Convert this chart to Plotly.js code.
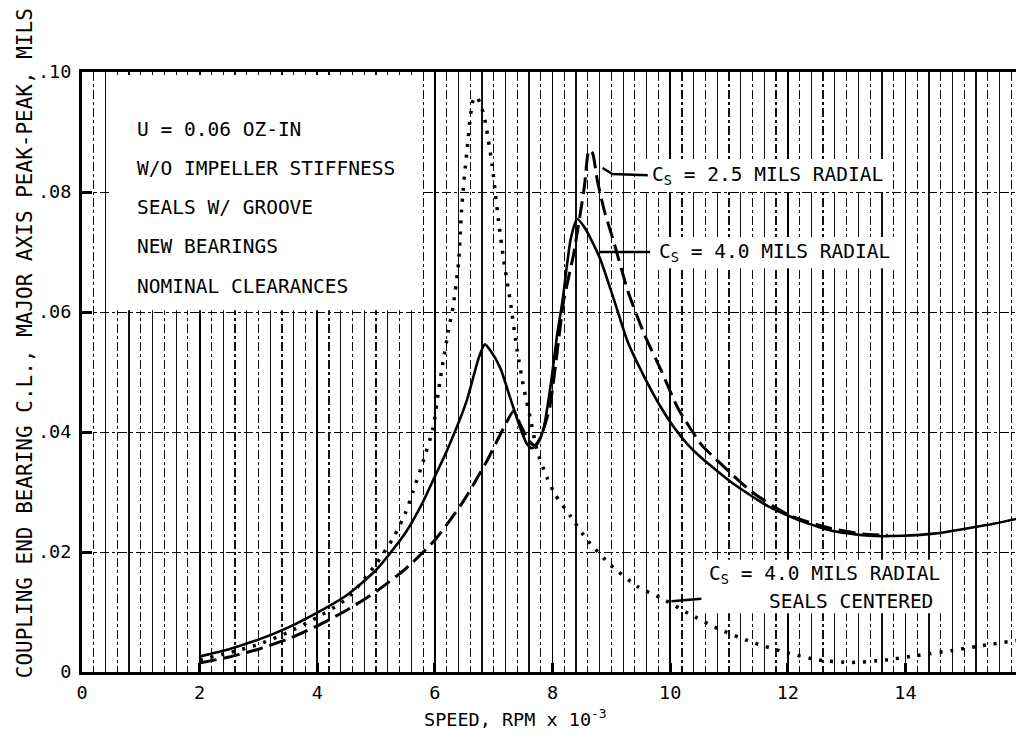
<!DOCTYPE html>
<html>
<head>
<meta charset="utf-8">
<script src="https://cdn.plot.ly/plotly-3.0.1.min.js"></script>
<style>
html,body{margin:0;padding:0;background:#fff;}
#chart{width:1016px;height:737px;}
</style>
</head>
<body>
<div id="chart"></div>
<script>
// ---- data (speed in RPM x 10^-3, amplitude in mils) ----
const speedCs40 = [2.0, 2.5, 3.0, 3.5, 4.0, 4.5, 5.0, 5.5, 5.8, 6.0, 6.2, 6.54, 6.75, 6.85, 6.95, 7.11, 7.28, 7.45, 7.56, 7.65, 7.75, 7.85, 7.97, 8.08, 8.17, 8.31, 8.42, 8.55, 8.70, 8.82, 9.05, 9.28, 9.56, 9.85, 10.07, 10.30, 10.53, 11.1, 11.67, 12.24, 12.81, 13.38, 13.95, 14.52, 15.09, 15.5, 15.93];
const ampCs40   = [0.0026, 0.0038, 0.0054, 0.0074, 0.0099, 0.0128, 0.0170, 0.0232, 0.0284, 0.0326, 0.0368, 0.0452, 0.0525, 0.0546, 0.0535, 0.0507, 0.0457, 0.0407, 0.0381, 0.0373, 0.0381, 0.0407, 0.0479, 0.0563, 0.0619, 0.0722, 0.0755, 0.0740, 0.0712, 0.0686, 0.0619, 0.0550, 0.0492, 0.0440, 0.0407, 0.0379, 0.0357, 0.0312, 0.0276, 0.0251, 0.0234, 0.0227, 0.0227, 0.0231, 0.0240, 0.0247, 0.0256];

const speedCs25 = [2.0, 2.5, 3.0, 3.5, 4.0, 4.5, 5.0, 5.5, 6.0, 6.48, 6.88, 7.17, 7.34, 7.45, 7.60, 7.70, 7.80, 7.95, 8.05, 8.19, 8.36, 8.54, 8.62, 8.68, 8.76, 8.88, 9.05, 9.28, 9.56, 9.85, 10.13, 10.53, 10.7, 11.38, 12.01, 12.7, 13.26, 13.7];
const ampCs25   = [0.0015, 0.0025, 0.0038, 0.0055, 0.0077, 0.0103, 0.0134, 0.0172, 0.0220, 0.0284, 0.0351, 0.0407, 0.0435, 0.0413, 0.0385, 0.0378, 0.0392, 0.0440, 0.0510, 0.0619, 0.0697, 0.0808, 0.0870, 0.0865, 0.0820, 0.0769, 0.0714, 0.0635, 0.0563, 0.0502, 0.0440, 0.0379, 0.0362, 0.0301, 0.0262, 0.0240, 0.0230, 0.0228];

const speedCentered = [2.0, 2.5, 3.0, 3.5, 4.0, 4.5, 5.0, 5.3, 5.5, 5.63, 5.8, 5.97, 6.06, 6.14, 6.23, 6.31, 6.40, 6.46, 6.54, 6.65, 6.71, 6.78, 6.85, 6.97, 7.08, 7.17, 7.28, 7.40, 7.51, 7.62, 7.74, 7.91, 8.05, 8.31, 8.59, 8.99, 9.45, 9.85, 10.36, 10.82, 11.38, 11.95, 12.52, 13.09, 13.66, 14.23, 14.8, 15.37, 15.93];
const ampCentered   = [0.0020, 0.0032, 0.0046, 0.0066, 0.0091, 0.0122, 0.0180, 0.0225, 0.0265, 0.0301, 0.0351, 0.0407, 0.0468, 0.0518, 0.0569, 0.0610, 0.0680, 0.0780, 0.0864, 0.0953, 0.0959, 0.0945, 0.0920, 0.0847, 0.0753, 0.0686, 0.0619, 0.0535, 0.0474, 0.0424, 0.0368, 0.0323, 0.0295, 0.0259, 0.0220, 0.0178, 0.0142, 0.0123, 0.0095, 0.0072, 0.0050, 0.0033, 0.0020, 0.0016, 0.0020, 0.0028, 0.0036, 0.0045, 0.0053];

const xTickVals = [0, 2, 4, 6, 8, 10, 12, 14];
const xTickText = ['0', '2', '4', '6', '8', '10', '12', '14'];
const yTickVals = [0, 0.02, 0.04, 0.06, 0.08, 0.10];
const yTickText = ['0', '.02', '.04', '.06', '.08', '.10'];

const noteLines = ['U = 0.06 OZ-IN', 'W/O IMPELLER STIFFNESS', 'SEALS W/ GROOVE', 'NEW BEARINGS', 'NOMINAL CLEARANCES'];
const labelCs25 = 'C<sub>S</sub> = 2.5 MILS RADIAL';
const labelCs40 = 'C<sub>S</sub> = 4.0 MILS RADIAL';
const labelCenteredA = 'C<sub>S</sub> = 4.0 MILS RADIAL';
const labelCenteredB = 'SEALS CENTERED';
const xTitle = 'SPEED, RPM x 10<sup>-3</sup>';
const yTitle = 'COUPLING END BEARING C.L., MAJOR AXIS PEAK-PEAK, MILS';

// ---- styling ----
const FONT = 'DejaVu Sans Mono, Liberation Mono, monospace';
const X_RANGE = [0, 15.88];
const Y_RANGE = [0, 0.1];

const traces = [
  {x: speedCentered, y: ampCentered, mode: 'lines', xaxis: 'x2', name: 'Cs = 4.0 seals centered',
   line: {color: '#000', width: 3.5, dash: '3px,8px', shape: 'spline', smoothing: 0.6}},
  {x: speedCs25, y: ampCs25, mode: 'lines', name: 'Cs = 2.5',
   line: {color: '#000', width: 3, dash: '17px,7px', shape: 'spline', smoothing: 0.6}},
  {x: speedCs40, y: ampCs40, mode: 'lines', name: 'Cs = 4.0',
   line: {color: '#000', width: 2.6, shape: 'spline', smoothing: 0.6}}
];

const annotations = [];
noteLines.forEach((t, i) => {
  annotations.push({xref: 'x', yref: 'y', x: 0.90, y: 0.0905 - i * 0.00655, text: t,
    showarrow: false, xanchor: 'left', yanchor: 'middle', font: {family: FONT, size: 19.5, color: '#000'}});
});
annotations.push({xref: 'x', yref: 'y', x: 9.65, y: 0.0828, text: labelCs25, showarrow: false,
  xanchor: 'left', yanchor: 'middle', font: {family: FONT, size: 19.5, color: '#000'}});
annotations.push({xref: 'x', yref: 'y', x: 9.77, y: 0.0700, text: labelCs40, showarrow: false,
  xanchor: 'left', yanchor: 'middle', font: {family: FONT, size: 19.5, color: '#000'}});
annotations.push({xref: 'x', yref: 'y', x: 10.62, y: 0.0162, text: labelCenteredA, showarrow: false,
  xanchor: 'left', yanchor: 'middle', font: {family: FONT, size: 19.5, color: '#000'}});
annotations.push({xref: 'x', yref: 'y', x: 11.64, y: 0.0117, text: labelCenteredB, showarrow: false,
  xanchor: 'left', yanchor: 'middle', font: {family: FONT, size: 19.5, color: '#000'}});
annotations.push({xref: 'paper', yref: 'paper', x: 0.4636, y: -0.076, text: xTitle, showarrow: false,
  xanchor: 'center', yanchor: 'middle', font: {family: FONT, size: 18.5, color: '#000'}});
annotations.push({xref: 'paper', yref: 'paper', x: -0.061, y: 0.548, text: yTitle, showarrow: false,
  textangle: -90, xanchor: 'center', yanchor: 'middle', font: {family: FONT, size: 21, color: '#000'}});

const white = {type: 'rect', xref: 'x', yref: 'y', layer: 'above', fillcolor: '#fff', line: {width: 0}};
const lead = {xref: 'x', yref: 'y', layer: 'above', line: {color: '#000', width: 2.5}};
const shapes = [
  Object.assign({x0: 0.48, x1: 5.79, y0: 0.0603, y1: 0.0995}, white),
  Object.assign({x0: 9.57, x1: 13.73, y0: 0.0800, y1: 0.0855}, white),
  Object.assign({x0: 9.69, x1: 13.81, y0: 0.0673, y1: 0.0725}, white),
  Object.assign({x0: 10.55, x1: 14.63, y0: 0.0098, y1: 0.0187}, white),
  Object.assign({type: 'path', path: 'M 8.85,0.0840 L 9.02,0.0830 L 9.62,0.0828'}, lead),
  Object.assign({type: 'line', x0: 8.80, y0: 0.0700, x1: 9.66, y1: 0.0700}, lead),
  Object.assign({type: 'line', x0: 10.02, y0: 0.0118, x1: 10.53, y1: 0.0122}, lead)
];

const layout = {
  width: 1016, height: 737,
  margin: {l: 82, r: 0, t: 72, b: 65, pad: 0},
  paper_bgcolor: '#fff', plot_bgcolor: '#fff',
  showlegend: false,
  font: {family: FONT, color: '#000'},
  xaxis: {
    range: X_RANGE, tickvals: xTickVals, ticktext: xTickText,
    showgrid: true, gridcolor: '#000', gridwidth: 1.8,
    minor: {tick0: 0, dtick: 0.4, showgrid: true, gridcolor: '#111', gridwidth: 1.2, griddash: 'solid', ticks: ''},
    showline: true, linecolor: '#000', linewidth: 3, mirror: true,
    ticks: 'inside', ticklen: 9, tickwidth: 3, tickcolor: '#000',
    tickfont: {family: FONT, size: 18.5, color: '#000'}, ticklabelstandoff: 2,
    zeroline: false, fixedrange: true
  },
  xaxis2: {
    range: X_RANGE, overlaying: 'x', anchor: 'y', side: 'bottom',
    showticklabels: false, ticks: '', showline: false, zeroline: false,
    tick0: 0.2, dtick: 0.4, showgrid: true, gridcolor: '#111', gridwidth: 1.2, griddash: 'dashdot'
  },
  yaxis: {
    range: Y_RANGE, tickvals: yTickVals, ticktext: yTickText,
    showgrid: true, gridcolor: '#000', gridwidth: 1, griddash: 'dashdot',
    showline: true, linecolor: '#000', linewidth: 3, mirror: false,
    ticks: 'inside', ticklen: 10, tickwidth: 3, tickcolor: '#000',
    tickfont: {family: FONT, size: 18.5, color: '#000'}, ticklabelstandoff: 4,
    zeroline: false, fixedrange: true
  },
  annotations: annotations,
  shapes: shapes
};

Plotly.newPlot('chart', traces, layout, {displayModeBar: false, staticPlot: true});
</script>
</body>
</html>
